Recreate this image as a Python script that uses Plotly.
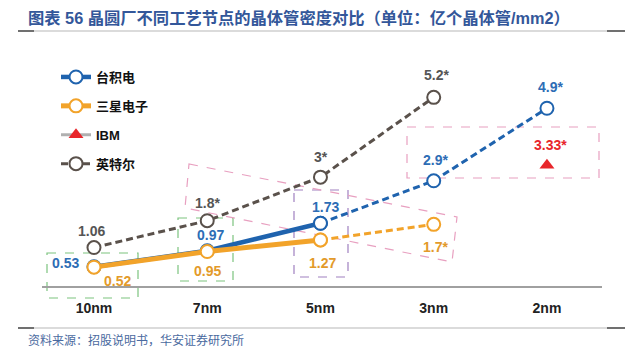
import plotly.graph_objects as go

# ---------------- data ----------------
nodes = ["10nm", "7nm", "5nm", "3nm", "2nm"]

tsmc_nodes = ["10nm", "7nm", "5nm", "3nm", "2nm"]
tsmc_vals = [0.53, 0.97, 1.73, 2.9, 4.9]
tsmc_labels = ["0.53", "0.97", "1.73", "2.9*", "4.9*"]

samsung_nodes = ["10nm", "7nm", "5nm", "3nm"]
samsung_vals = [0.52, 0.95, 1.27, 1.7]
samsung_labels = ["0.52", "0.95", "1.27", "1.7*"]

ibm_nodes = ["2nm"]
ibm_vals = [3.33]
ibm_labels = ["3.33*"]

intel_nodes = ["10nm", "7nm", "5nm", "3nm"]
intel_vals = [1.06, 1.8, 3.0, 5.2]
intel_labels = ["1.06", "1.8*", "3*", "5.2*"]

title_text = "图表 56 晶圆厂不同工艺节点的晶体管密度对比（单位：亿个晶体管/mm2）"
source_text = "资料来源：招股说明书，华安证券研究所"

# ---------------- style ----------------
W, H = 637, 354
ML, MR, MT, MB = 42, 35, 60, 68
C_TSMC = "#1f63ae"
C_SAM = "#f2a32a"
C_IBM = "#e8262b"
C_INTEL = "#5a514b"
FONT = "Liberation Sans, Arial, Noto Sans CJK SC, sans-serif"
CJK = "Noto Sans CJK SC, sans-serif"
DASH = "7px,4px"

X0, X1 = -0.459, 4.486
Y0, Y1 = 0, 6.23

def px2paper(px, py):
    return (px - ML) / (W - ML - MR), (H - MB - py) / (H - MT - MB)

fig = go.Figure()

def marker(c):
    return dict(symbol="circle", size=13, color="white", line=dict(color=c, width=2))

# Intel (dashed)
fig.add_trace(go.Scatter(x=intel_nodes, y=intel_vals, mode="lines+markers", name="英特尔",
                         line=dict(color=C_INTEL, width=3, dash=DASH), marker=marker(C_INTEL),
                         legendgroup="intel", legendrank=4))
# TSMC solid / dashed
fig.add_trace(go.Scatter(x=tsmc_nodes[2:], y=tsmc_vals[2:], mode="lines+markers", showlegend=False,
                         line=dict(color=C_TSMC, width=3, dash=DASH), marker=marker(C_TSMC)))
fig.add_trace(go.Scatter(x=tsmc_nodes[:3], y=tsmc_vals[:3], mode="lines+markers", name="台积电",
                         line=dict(color=C_TSMC, width=4.5), marker=marker(C_TSMC),
                         legendgroup="tsmc", legendrank=1))
# Samsung solid / dashed
fig.add_trace(go.Scatter(x=samsung_nodes[2:], y=samsung_vals[2:], mode="lines+markers", showlegend=False,
                         line=dict(color=C_SAM, width=3, dash=DASH), marker=marker(C_SAM)))
fig.add_trace(go.Scatter(x=samsung_nodes[:3], y=samsung_vals[:3], mode="lines+markers", name="三星电子",
                         line=dict(color=C_SAM, width=5), marker=marker(C_SAM),
                         legendgroup="sam", legendrank=2))
# IBM
fig.add_trace(go.Scatter(x=ibm_nodes, y=ibm_vals, mode="lines+markers", name="IBM",
                         line=dict(color="#b0b0b0", width=3),
                         marker=dict(symbol="triangle-up", size=13, color=C_IBM),
                         legendgroup="ibm", legendrank=3))

# value labels
def add_labels(xs, ys, labels, color, offsets):
    for x, y, t, (dx, dy) in zip(xs, ys, labels, offsets):
        fig.add_annotation(x=x, y=y, text=f"<b>{t}</b>", showarrow=False, xshift=dx, yshift=dy,
                           font=dict(family=FONT, size=14, color=color))

add_labels(intel_nodes, intel_vals, intel_labels, "#555555",
           [(-2, 16.5), (0, 17.5), (1, 20), (3, 22)])
add_labels(tsmc_nodes, tsmc_vals, tsmc_labels, "#2d6db5",
           [(-28, 4), (3, 16), (5, 16), (2, 21), (4, 21)])
add_labels(samsung_nodes, samsung_vals, samsung_labels, "#e39a2a",
           [(24, -14), (0, -19.5), (2, -23), (2, -23)])
add_labels(ibm_nodes, ibm_vals, ibm_labels, C_IBM, [(4, 20)])

# decorative dashed boxes (pixel coordinates)
def rect_px(x0, y0, x1, y1, color):
    a = px2paper(x0, y0)
    b = px2paper(x1, y1)
    fig.add_shape(type="rect", xref="paper", yref="paper", x0=a[0], y0=a[1], x1=b[0], y1=b[1],
                  line=dict(color=color, width=1.2, dash="dash"), layer="below")

def poly_px(pts, color):
    pp = [px2paper(x, y) for x, y in pts]
    path = "M " + " L ".join(f"{x},{y}" for x, y in pp) + " Z"
    fig.add_shape(type="path", xref="paper", yref="paper", path=path,
                  line=dict(color=color, width=1.2, dash="dash"), layer="below")

GREEN = "#7cc47f"
PURPLE = "#a080c0"
PINK = "#e8a0c0"
rect_px(47, 253, 138, 298, GREEN)
rect_px(178, 218, 233, 281, GREEN)
rect_px(294, 190, 348, 277, PURPLE)
rect_px(407, 127, 599, 178, PINK)
poly_px([(189, 164), (457, 217), (452, 262), (185, 208)], PINK)

# rules at top and bottom
for py in (31, 328):
    a = px2paper(18, py)
    b = px2paper(625, py)
    fig.add_shape(type="line", xref="paper", yref="paper", x0=a[0], y0=a[1], x1=b[0], y1=b[1],
                  line=dict(color="#b8b8b8", width=1.2))
    for (s, e) in ((18, 34), (607, 625)):
        a = px2paper(s, py)
        b = px2paper(e, py)
        fig.add_shape(type="line", xref="paper", yref="paper", x0=a[0], y0=a[1], x1=b[0], y1=b[1],
                      line=dict(color="#555555", width=1.6))

# title & source
tx, ty = px2paper(26, 18)
fig.add_annotation(xref="paper", yref="paper", x=tx, y=ty, xanchor="left", yanchor="middle",
                   text=f"<b>{title_text}</b>", showarrow=False,
                   font=dict(family=FONT, size=16.3, color="#33579a"))
sx, sy = px2paper(26, 339)
fig.add_annotation(xref="paper", yref="paper", x=sx, y=sy, xanchor="left", yanchor="middle",
                   text=source_text, showarrow=False,
                   font=dict(family=CJK, size=12, color="#4a6aa0"))

lx, ly = px2paper(56, 62)
fig.update_layout(
    width=W, height=H,
    margin=dict(l=ML, r=MR, t=MT, b=MB),
    paper_bgcolor="white", plot_bgcolor="white",
    showlegend=True,
    legend=dict(x=lx, y=ly, xanchor="left", yanchor="top", bgcolor="rgba(0,0,0,0)",
                font=dict(family=FONT, size=13, color="#111111"), itemwidth=30,
                traceorder="grouped", tracegroupgap=9),
    xaxis=dict(type="category", categoryorder="array", categoryarray=nodes, range=[X0, X1],
               showgrid=False, zeroline=False, showline=True, linecolor="#a0a0a0", linewidth=1.5,
               ticks="outside", ticklen=8, tickcolor="rgba(0,0,0,0)",
               tickfont=dict(family=FONT, size=14, color="#222222"),
               ticktext=[f"<b>{n}</b>" for n in nodes], tickvals=nodes),
    yaxis=dict(range=[Y0, Y1], visible=False, showgrid=False, zeroline=False),
)
for tr in fig.data:
    if tr.name:
        tr.name = f"<b>{tr.name}</b>"

fig.write_html("out.html")
